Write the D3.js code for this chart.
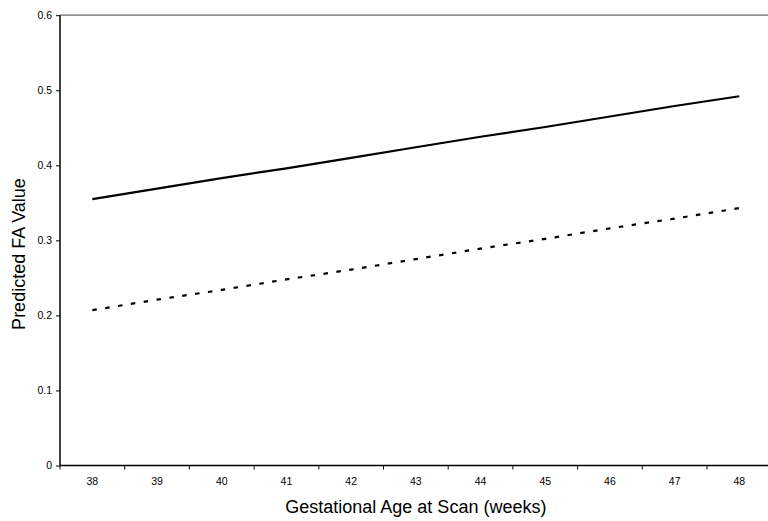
<!DOCTYPE html>
<html><head><meta charset="utf-8">
<script src="https://cdn.jsdelivr.net/npm/d3@7"></script>
<style>body{margin:0;background:#fff}svg{display:block}</style>
</head><body>
<svg id="c" width="768" height="521"></svg>
<script>
const weeks = [38,39,40,41,42,43,44,45,46,47,48];
const solidSeries = [0.355,0.369,0.383,0.396,0.410,0.424,0.438,0.451,0.465,0.479,0.492];
const dashedSeries = [0.207,0.221,0.234,0.248,0.261,0.275,0.289,0.302,0.316,0.329,0.343];
const yTicks = [0,0.1,0.2,0.3,0.4,0.5,0.6];

(function(){
const svg = d3.select("#c");
const mLeft = 60, mRight = 771.7, mTop = 15.2, mBottom = 465.5;
const font = "Liberation Sans, Arial, sans-serif";

const x = d3.scaleBand().domain(weeks).range([mLeft, mRight]).paddingInner(0).paddingOuter(0);
const y = d3.scaleLinear().domain([0,0.6]).range([mBottom, mTop]);

// top border
svg.append("line").attr("x1",mLeft).attr("x2",768).attr("y1",y(0.6)).attr("y2",y(0.6))
  .attr("stroke","#666").attr("stroke-width",1.3);

// y axis
const ya = svg.append("g").attr("transform",`translate(${mLeft},0)`)
  .call(d3.axisLeft(y).tickValues(yTicks).tickSize(4).tickPadding(4).tickFormat(d3.format("")));
ya.select(".domain").attr("stroke","#000").attr("stroke-width",1.5).attr("d",`M0,${y(0.6)}V${mBottom}`);
ya.selectAll(".tick line").attr("stroke","#000").attr("stroke-width",1);
ya.selectAll("text").attr("font-family",font).attr("font-size",10.5).attr("fill","#000");

// x axis with ticks at band boundaries
const xa = svg.append("g").attr("transform",`translate(0,${mBottom})`)
  .call(d3.axisBottom(x).tickSize(0).tickPadding(12));
xa.select(".domain").attr("stroke","#000").attr("stroke-width",1.5).attr("d",`M${mLeft},0H768`);
xa.selectAll("text").attr("font-family",font).attr("font-size",10.5).attr("fill","#000");
xa.selectAll(".bnd").data(weeks).enter().append("line")
  .attr("x1",d=>x(d)).attr("x2",d=>x(d)).attr("y1",0).attr("y2",4)
  .attr("stroke","#000").attr("stroke-width",1);

const line = d3.line().x((d,i)=>x(weeks[i])+x.bandwidth()/2).y(d=>y(d));
svg.append("path").datum(solidSeries).attr("d",line).attr("fill","none")
  .attr("stroke","#000").attr("stroke-width",2.2);
svg.append("path").datum(dashedSeries).attr("d",line).attr("fill","none")
  .attr("stroke","#000").attr("stroke-width",2.2).attr("stroke-dasharray","4.5,8.5");

svg.append("text").attr("x",(mLeft+mRight)/2).attr("y",513).attr("text-anchor","middle")
  .attr("font-family",font).attr("font-size",18).text("Gestational Age at Scan (weeks)");
svg.append("text").attr("transform",`translate(25,254) rotate(-90)`).attr("text-anchor","middle")
  .attr("font-family",font).attr("font-size",18).text("Predicted FA Value");
})();
</script>
</body></html>
